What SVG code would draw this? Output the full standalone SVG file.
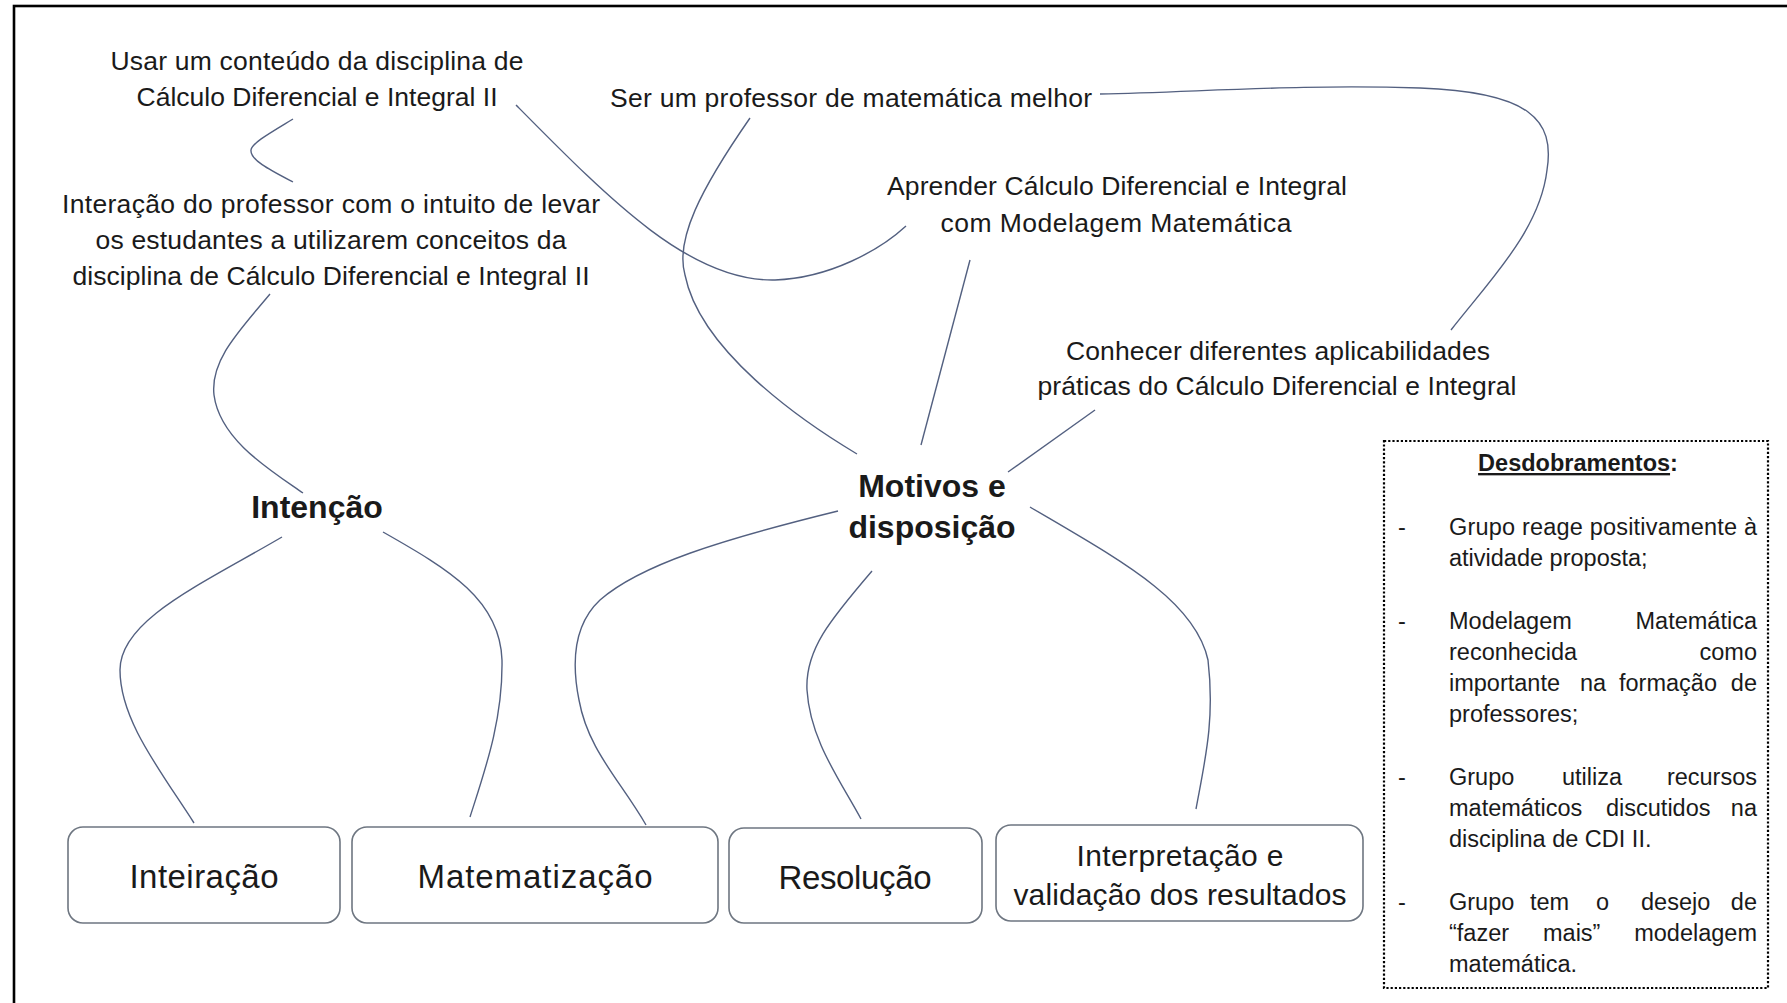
<svg xmlns="http://www.w3.org/2000/svg" width="1787" height="1003" viewBox="0 0 1787 1003">
<style>
text{font-family:"Liberation Sans",Arial,sans-serif;fill:#1a1a1a}
.t{font-size:26.5px;text-anchor:middle}
.b{font-size:32px;font-weight:bold;text-anchor:middle}
.bx{font-size:33px;text-anchor:middle}
.bx2{font-size:30px;text-anchor:middle}
.l{font-size:23.5px}
.e{text-anchor:end}
.box{fill:#fff;stroke:#6e7681;stroke-width:1.6}
.c path,.c line{fill:none;stroke:#536080;stroke-width:1.4}
</style>
<rect x="0" y="0" width="1787" height="1003" fill="#fff"/>
<rect x="14" y="6" width="1800" height="1020" fill="none" stroke="#000" stroke-width="2.6"/>

<g class="c" id="connectors">
<path d="M293,119 C270,133 252,143 251,150 C250,160 270,170 293,182"/>
<path d="M516,105 C610,200 690,282 775,280 C830,278 880,250 906,226"/>
<path d="M750,118 C700,190 675,240 685,275 C700,350 800,420 857,454"/>
<line x1="970" y1="260" x2="921" y2="445"/>
<path d="M1100,94 C1200,92 1300,84 1420,88 C1530,92 1555,120 1547,170 C1540,230 1490,280 1451,330"/>
<line x1="1095" y1="410" x2="1008" y2="472"/>
<path d="M270,294 C240,330 210,360 214,395 C220,440 270,470 303,493"/>
<path d="M282,537 C200,585 120,620 120,670 C120,720 160,770 194,823"/>
<path d="M383,532 C450,570 500,600 502,660 C503,720 485,770 470,817"/>
<path d="M838,511 C720,540 640,565 600,600 C570,628 573,670 579,700 C588,750 620,780 646,825"/>
<path d="M872,571 C830,620 805,650 807,690 C810,740 840,780 861,819"/>
<path d="M1030,507 C1120,560 1195,600 1208,660 C1215,720 1205,760 1196,809"/>
</g>

<g id="n-usar">
<text class="t" x="317" y="70" textLength="413">Usar um conteúdo da disciplina de</text>
<text class="t" x="317" y="106" textLength="361">Cálculo Diferencial e Integral II</text>
</g>
<g id="n-interacao">
<text class="t" x="331" y="213" textLength="538">Interação do professor com o intuito de levar</text>
<text class="t" x="331" y="249" textLength="471">os estudantes a utilizarem conceitos da</text>
<text class="t" x="331" y="285" textLength="517">disciplina de Cálculo Diferencial e Integral II</text>
</g>
<g id="n-ser">
<text class="t" x="851" y="107" textLength="482">Ser um professor de matemática melhor</text>
</g>
<g id="n-aprender">
<text class="t" x="1117" y="195" textLength="460">Aprender Cálculo Diferencial e Integral</text>
<text class="t" x="1116" y="232" textLength="351">com Modelagem Matemática</text>
</g>
<g id="n-conhecer">
<text class="t" x="1278" y="360" textLength="424">Conhecer diferentes aplicabilidades</text>
<text class="t" x="1277" y="395" textLength="479">práticas do Cálculo Diferencial e Integral</text>
</g>
<g id="n-intencao">
<text class="b" x="317" y="518">Intenção</text>
</g>
<g id="n-motivos">
<text class="b" x="932" y="497">Motivos e</text>
<text class="b" x="932" y="538">disposição</text>
</g>

<g id="n-inteiracao">
<rect class="box" x="68" y="827" width="272" height="96" rx="15"/>
<text class="bx" x="204" y="888" textLength="149">Inteiração</text>
</g>
<g id="n-matematizacao">
<rect class="box" x="352" y="827" width="366" height="96" rx="15"/>
<text class="bx" x="535" y="888" textLength="235">Matematização</text>
</g>
<g id="n-resolucao">
<rect class="box" x="729" y="828" width="253" height="95" rx="15"/>
<text class="bx" x="855" y="889" textLength="153">Resolução</text>
</g>
<g id="n-interpretacao">
<rect class="box" x="996" y="825" width="367" height="96" rx="15"/>
<text class="bx2" x="1180" y="866" textLength="207">Interpretação e</text>
<text class="bx2" x="1180" y="905" textLength="333">validação dos resultados</text>
</g>

<g id="n-desdobramentos">
<rect x="1384" y="441" width="384" height="547" fill="none" stroke="#000" stroke-width="2.2" stroke-dasharray="2.2 2"/>
<text class="l" x="1578" y="471" text-anchor="middle" font-weight="bold"><tspan text-decoration="underline">Desdobramentos</tspan>:</text>
<g class="l">
<text class="l" x="1402" y="535" text-anchor="middle">-</text>
<text class="l" x="1449" y="535" textLength="308">Grupo reage positivamente à</text>
<text class="l" x="1449" y="566">atividade proposta;</text>

<text class="l" x="1402" y="629" text-anchor="middle">-</text>
<text class="l" x="1449" y="629">Modelagem</text><text class="l e" x="1757" y="629">Matemática</text>
<text class="l" x="1449" y="660">reconhecida</text><text class="l e" x="1757" y="660">como</text>
<text class="l" x="1449" y="691">importante</text><text class="l" x="1580" y="691">na</text><text class="l" x="1619" y="691">formação</text><text class="l e" x="1757" y="691">de</text>
<text class="l" x="1449" y="722">professores;</text>

<text class="l" x="1402" y="785" text-anchor="middle">-</text>
<text class="l" x="1449" y="785">Grupo</text><text class="l" x="1562" y="785">utiliza</text><text class="l e" x="1757" y="785">recursos</text>
<text class="l" x="1449" y="816">matemáticos</text><text class="l" x="1606" y="816">discutidos</text><text class="l e" x="1757" y="816">na</text>
<text class="l" x="1449" y="847">disciplina de CDI II.</text>

<text class="l" x="1402" y="910" text-anchor="middle">-</text>
<text class="l" x="1449" y="910">Grupo</text><text class="l" x="1530" y="910">tem</text><text class="l" x="1596" y="910">o</text><text class="l" x="1641" y="910">desejo</text><text class="l e" x="1757" y="910">de</text>
<text class="l" x="1449" y="941">“fazer</text><text class="l" x="1543" y="941">mais”</text><text class="l e" x="1757" y="941">modelagem</text>
<text class="l" x="1449" y="972">matemática.</text>
</g>
</g>
</svg>
